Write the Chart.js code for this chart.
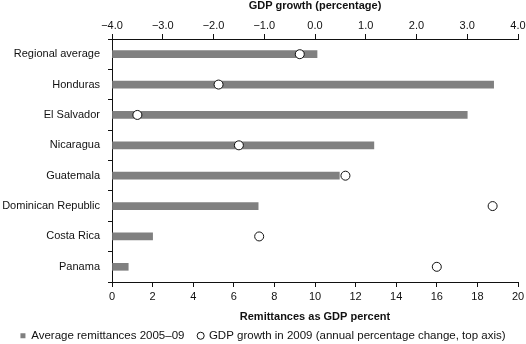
<!DOCTYPE html>
<html>
<head>
<meta charset="utf-8">
<script src="https://cdn.jsdelivr.net/npm/chart.js@4.4.0/dist/chart.umd.min.js"></script>
<style>
  html, body { margin: 0; padding: 0; background: #fff; }
  #wrap { width: 526px; height: 344px; }
</style>
</head>
<body>
<div id="wrap"><canvas id="remitChart" width="526" height="344"></canvas></div>
<script>
const countries = ['Regional average', 'Honduras', 'El Salvador', 'Nicaragua',
  'Guatemala', 'Dominican Republic', 'Costa Rica', 'Panama'];
const remittances = [10.1, 18.8, 17.5, 12.9, 11.2, 7.2, 2.0, 0.8];   // % of GDP, avg 2005-09
const gdpGrowth = [-0.3, -1.9, -3.5, -1.5, 0.6, 3.5, -1.1, 2.4];      // % change 2009
const legendNames = ['Average remittances 2005\u201309',
  'GDP growth in 2009 (annual percentage change, top axis)'];
const legendStyles = ['rect', 'circle'];

const FONT = '"Liberation Sans", Arial, Helvetica, sans-serif';
Chart.defaults.font.family = FONT;
Chart.defaults.font.size = 11;
Chart.defaults.color = '#111';

// minus sign instead of hyphen on the growth axis
const fmtGrowth = v => (v < 0 ? '\u2212' : '') + Math.abs(v).toFixed(1);

// keep the label column and the right margin fixed
const fixLeft = scale => { scale.width = 112; };
const fixRight = scale => { scale.paddingRight = 8; };

const ctx = document.getElementById('remitChart').getContext('2d');
const myChart = new Chart(ctx, {
  type: 'bar',
  data: {
    labels: countries,
    datasets: [{
      label: legendNames[0],
      data: remittances,
      xAxisID: 'x',
      backgroundColor: '#808080',
      borderWidth: 0,
      barThickness: 7,
      order: 2
    }, {
      type: 'line',
      label: legendNames[1],
      data: gdpGrowth,
      xAxisID: 'x2',
      indexAxis: 'y',
      showLine: false,
      pointRadius: 4.5,
      pointBackgroundColor: '#fff',
      pointBorderColor: '#111',
      pointBorderWidth: 1,
      backgroundColor: '#fff',
      borderColor: '#111',
      borderWidth: 1,
      order: 1
    }]
  },
  options: {
    indexAxis: 'y',
    responsive: false,
    animation: false,
    layout: { padding: 0 },
    scales: {
      y: {
        type: 'category',
        offset: true,
        afterFit: fixLeft,
        grid: { offset: true, drawOnChartArea: false, tickLength: 4, color: '#111' },
        border: { color: '#111' },
        ticks: { padding: 8, color: '#111', font: { size: 11 } }
      },
      x: {
        position: 'bottom',
        min: 0,
        max: 20,
        afterFit: fixRight,
        grid: { drawOnChartArea: false, tickLength: 5, color: '#111' },
        border: { color: '#111' },
        ticks: { stepSize: 2, padding: 4, maxRotation: 0, color: '#111', font: { size: 11, lineHeight: 1 } },
        title: {
          display: true, text: 'Remittances as GDP percent', color: '#111',
          font: { weight: 'bold', size: 11, lineHeight: 1 }, padding: { top: 5, bottom: 0 }
        }
      },
      x2: {
        position: 'top',
        min: -4,
        max: 4,
        afterFit: fixRight,
        grid: { drawOnChartArea: false, tickLength: 5, color: '#111' },
        border: { color: '#111' },
        ticks: {
          stepSize: 1, padding: 3, maxRotation: 0, color: '#111',
          font: { size: 11, lineHeight: 1 }, callback: v => fmtGrowth(v)
        },
        title: {
          display: true, text: 'GDP growth (percentage)', color: '#111',
          font: { weight: 'bold', size: 11, lineHeight: 1 }, padding: { top: 0, bottom: 6 }
        }
      }
    },
    plugins: {
      tooltip: { enabled: false },
      legend: {
        position: 'bottom',
        maxHeight: 22,
        labels: {
          usePointStyle: true,
          boxWidth: 5,
          boxHeight: 5,
          padding: 8,
          color: '#111',
          font: { size: 11.5 },
          sort: (a, b) => a.datasetIndex - b.datasetIndex,
          generateLabels: chart => {
            const items = Chart.defaults.plugins.legend.labels.generateLabels(chart);
            items.forEach(it => {
              it.pointStyle = legendStyles[it.datasetIndex];
              if (it.datasetIndex === 0) {
                it.text += '\u2002';  // a bit more room before the second entry
                it.strokeStyle = '#808080';
                it.lineWidth = 0;
              }
            });
            return items;
          }
        }
      }
    }
  }
});
</script>
</body>
</html>
